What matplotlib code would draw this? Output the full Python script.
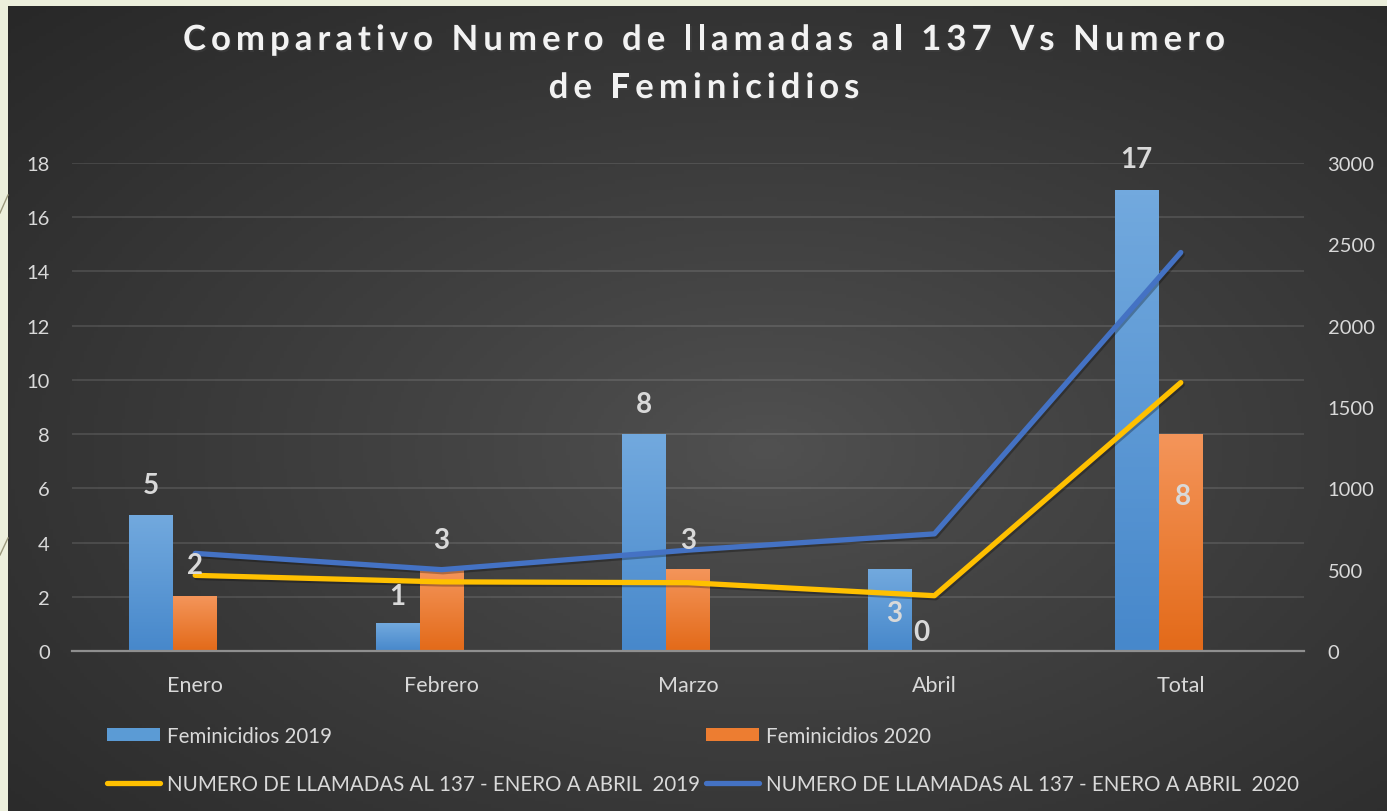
import numpy as np
import matplotlib
matplotlib.use('Agg')
import matplotlib.pyplot as plt
from matplotlib import patheffects as pe
from matplotlib.font_manager import FontProperties
from matplotlib.lines import Line2D
from matplotlib.patches import Patch
from matplotlib.transforms import IdentityTransform
from matplotlib.colors import LinearSegmentedColormap

# ---------------- data ----------------
meses = ['Enero', 'Febrero', 'Marzo', 'Abril', 'Total']
fem_2019 = [5, 1, 8, 3, 17]
fem_2020 = [2, 3, 3, 0, 8]
llamadas_2019 = [465, 425, 420, 340, 1650]
llamadas_2020 = [600, 500, 620, 720, 2450]
left_ticks = list(range(0, 19, 2))
right_ticks = list(range(0, 3001, 500))

titulo = ['Comparativo Numero de llamadas al 137 Vs Numero', 'de Feminicidios']
etiquetas = ['Feminicidios 2019', 'NUMERO DE LLAMADAS AL 137 - ENERO A ABRIL  2019',
             'Feminicidios 2020', 'NUMERO DE LLAMADAS AL 137 - ENERO A ABRIL  2020']

# label offsets (px) from bar top, as placed in the original
off_2019 = [(0, 30), (0, 28), (0, 30), (4, -43), (0, 31)]
off_2020 = [(0, 32), (0, 30), (0, 30), (-13, 19), (2, -62)]

# ---------------- figure ----------------
W, H = 1387, 812
plt.rcParams['font.family'] = ['Lato', 'DejaVu Sans']
fig = plt.figure(figsize=(W / 100, H / 100), dpi=100)
fig.patch.set_facecolor('#ecefdc')

# little decorative strokes on the slide margin
for (x0, y0, x1, y1) in [(0, 556, 8, 539), (0, 214, 8, 196)]:
    fig.add_artist(Line2D([x0, x1], [H - y0, H - y1], transform=IdentityTransform(),
                          color='#9a987c', lw=1))

# radial gradient background of the chart box
bg = fig.add_axes([8 / W, 0, 1 - 8 / W, 1 - 7 / H], zorder=-5)
gx, gy = np.meshgrid(np.linspace(0, 1, 400), np.linspace(0, 1, 240))
r = np.sqrt(((gx - 0.55) / 0.55) ** 2 + ((gy - 0.55) / 0.55) ** 2) / np.sqrt(2)
r = np.clip(r, 0, 1)
val = (81 - 41 * r ** 0.9) / 255
bg.imshow(np.dstack([val, val, val]), extent=[0, 1, 0, 1], aspect='auto', origin='upper')
bg.axis('off')

ax = fig.add_axes([72 / W, 1 - 652 / H, (1304 - 72) / W, (652 - 164) / H])
ax.patch.set_alpha(0)
x = np.arange(len(meses))
bw = 44 / 246.4

b1 = ax.bar(x - bw, fem_2019, bw, color='#5b9bd5', zorder=2, align='center')
b2 = ax.bar(x, fem_2020, bw, color='#ed7d31', zorder=2, align='center')

cm_blue = LinearSegmentedColormap.from_list('b', ['#72a9de', '#4788cb'])
cm_orng = LinearSegmentedColormap.from_list('o', ['#f4955a', '#e36a19'])
grad = np.linspace(0, 1, 100).reshape(-1, 1)
for bars, cm in [(b1, cm_blue), (b2, cm_orng)]:
    for b in bars:
        h = b.get_height()
        if h <= 0:
            continue
        x0 = b.get_x()
        ax.imshow(grad, extent=[x0, x0 + b.get_width(), 0, h], cmap=cm,
                  aspect='auto', zorder=2.1)

ax.set_xlim(-0.5, len(meses) - 0.5)
ax.set_ylim(0, 18)
ax.set_yticks(left_ticks)
ax.set_xticks(x, meses)
ax.yaxis.grid(True, color='white', alpha=0.13, lw=1.2)
ax.set_axisbelow(True)
ax.tick_params(axis='y', length=0, pad=16, colors='#d9d9d9', labelsize=14.5)
ax.tick_params(axis='x', length=0, pad=17, colors='#d9d9d9', labelsize=15.5)
for s in ['top', 'left', 'right']:
    ax.spines[s].set_visible(False)
ax.spines['bottom'].set_color('#8f8f8f')
ax.spines['bottom'].set_linewidth(1.6)

ax2 = ax.twinx()
shadow = [pe.SimpleLineShadow(offset=(1, -1.5), alpha=0.28, shadow_color='black'), pe.Normal()]
ax2.plot(x, llamadas_2019, color='#ffc000', lw=3.8, solid_capstyle='round', path_effects=shadow)
ax2.plot(x, llamadas_2020, color='#4472c4', lw=3.8, solid_capstyle='round', path_effects=shadow)
ax2.set_ylim(0, 3000)
ax2.set_yticks(right_ticks)
ax2.tick_params(axis='y', length=0, pad=17, colors='#d9d9d9', labelsize=14.5)
for s in ax2.spines.values():
    s.set_visible(False)

# data labels
for vals, offs, dx0 in [(fem_2019, off_2019, -bw), (fem_2020, off_2020, 0)]:
    for i, v in enumerate(vals):
        ax2.annotate(str(v), xy=(x[i] + dx0, v), xycoords=ax.transData,
                     xytext=offs[i], textcoords='offset pixels',
                     ha='center', va='center', fontsize=20, fontweight='bold',
                     color='#d9d9d9')

# title with letter spacing
fig.canvas.draw()
rend = fig.canvas.get_renderer()
fp = FontProperties(family=['Lato', 'DejaVu Sans'], weight='bold', size=25)


def tw(s):
    return rend.get_text_width_height_descent(s + '|', fp, ismath=False)[0] - \
        rend.get_text_width_height_descent('|', fp, ismath=False)[0]


line1_w = 1042
spacing = (line1_w - tw(titulo[0])) / (len(titulo[0]) - 1)
for line, base in zip(titulo, [51, 99]):
    total = tw(line) + spacing * (len(line) - 1)
    start = 704 - total / 2
    for i, ch in enumerate(line):
        if ch == ' ':
            continue
        fig.text(start + tw(line[:i]) + spacing * i, H - base, ch,
                 transform=IdentityTransform(), fontproperties=fp,
                 color='#f2f2f2', ha='left', va='baseline',
                 path_effects=[pe.withSimplePatchShadow(offset=(1, -1.5), alpha=0.35)])

# legend in two columns
h_b19 = Patch(facecolor='#5b9bd5')
h_l19 = Line2D([], [], color='#ffc000', lw=3.8, solid_capstyle='round')
h_b20 = Patch(facecolor='#ed7d31')
h_l20 = Line2D([], [], color='#4472c4', lw=3.8, solid_capstyle='round')
kw = dict(frameon=False, borderpad=0, borderaxespad=0, handlelength=2.6,
          handleheight=0.6, handletextpad=0.3, labelspacing=1.35,
          fontsize=14.8, labelcolor='#d9d9d9', loc='upper left')
leg1 = fig.legend([h_b19, h_l19], etiquetas[:2], bbox_to_anchor=(107 / W, 1 - 727 / H), **kw)
leg2 = fig.legend([h_b20, h_l20], etiquetas[2:], bbox_to_anchor=(706 / W, 1 - 727 / H), **kw)

fig.savefig('out.png', dpi=100, facecolor=fig.get_facecolor())
